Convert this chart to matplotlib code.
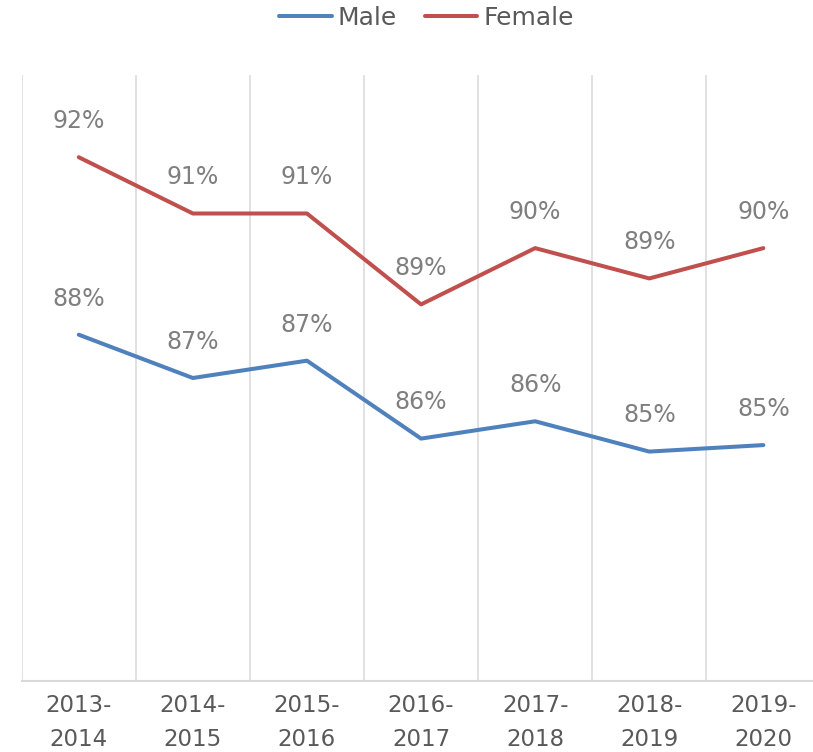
import matplotlib.pyplot as plt
import numpy as np

# school years on the x axis
years = ["2013-\n2014", "2014-\n2015", "2015-\n2016", "2016-\n2017",
         "2017-\n2018", "2018-\n2019", "2019-\n2020"]

# rates in percent
male = [88.0, 87.0, 87.4, 85.6, 86.0, 85.3, 85.45]
female = [92.1, 90.8, 90.8, 88.7, 90.0, 89.3, 90.0]

blue = "#4f81bd"
red = "#c0504d"
grid_col = "#d9d9d9"

fig = plt.figure(figsize=(8.13, 7.52), dpi=100)
ax = fig.add_axes([0.0267, 0.0944, 0.9824, 0.8059])

x = np.arange(len(years))
ax.plot(x, male, color=blue, lw=2.9, solid_capstyle="round", label="Male")
ax.plot(x, female, color=red, lw=2.9, solid_capstyle="round", label="Female")

# data labels above each point
for series in (male, female):
    for xi, v in zip(x, series):
        ax.annotate(f"{v:.0f}%", (xi, v), xytext=(0, 26), textcoords="offset points",
                    ha="center", va="center", fontsize=17, color="#7f7f7f")

ax.set_xlim(-0.5, len(years) - 0.5)
ax.set_ylim(80, 94)

# vertical grid between categories
ax.set_xticks(np.arange(-0.5, len(years)), minor=True)
ax.grid(True, which="minor", axis="x", color=grid_col, lw=1.1)
ax.set_xticks(x)
ax.set_xticklabels(years, fontsize=16.5, color="#595959", linespacing=1.65)
ax.tick_params(axis="x", which="both", length=0, pad=9)
ax.set_yticks([])

for s in ("top", "right", "left"):
    ax.spines[s].set_visible(False)
ax.spines["bottom"].set_color(grid_col)
ax.spines["bottom"].set_linewidth(1.5)

fig.legend(loc="center", bbox_to_anchor=(0.5246, 0.976), ncol=2, frameon=False,
           fontsize=18, labelcolor="#595959", handlelength=2.1,
           handletextpad=0.25, columnspacing=1.1)

fig.savefig("out.png", dpi=100)
